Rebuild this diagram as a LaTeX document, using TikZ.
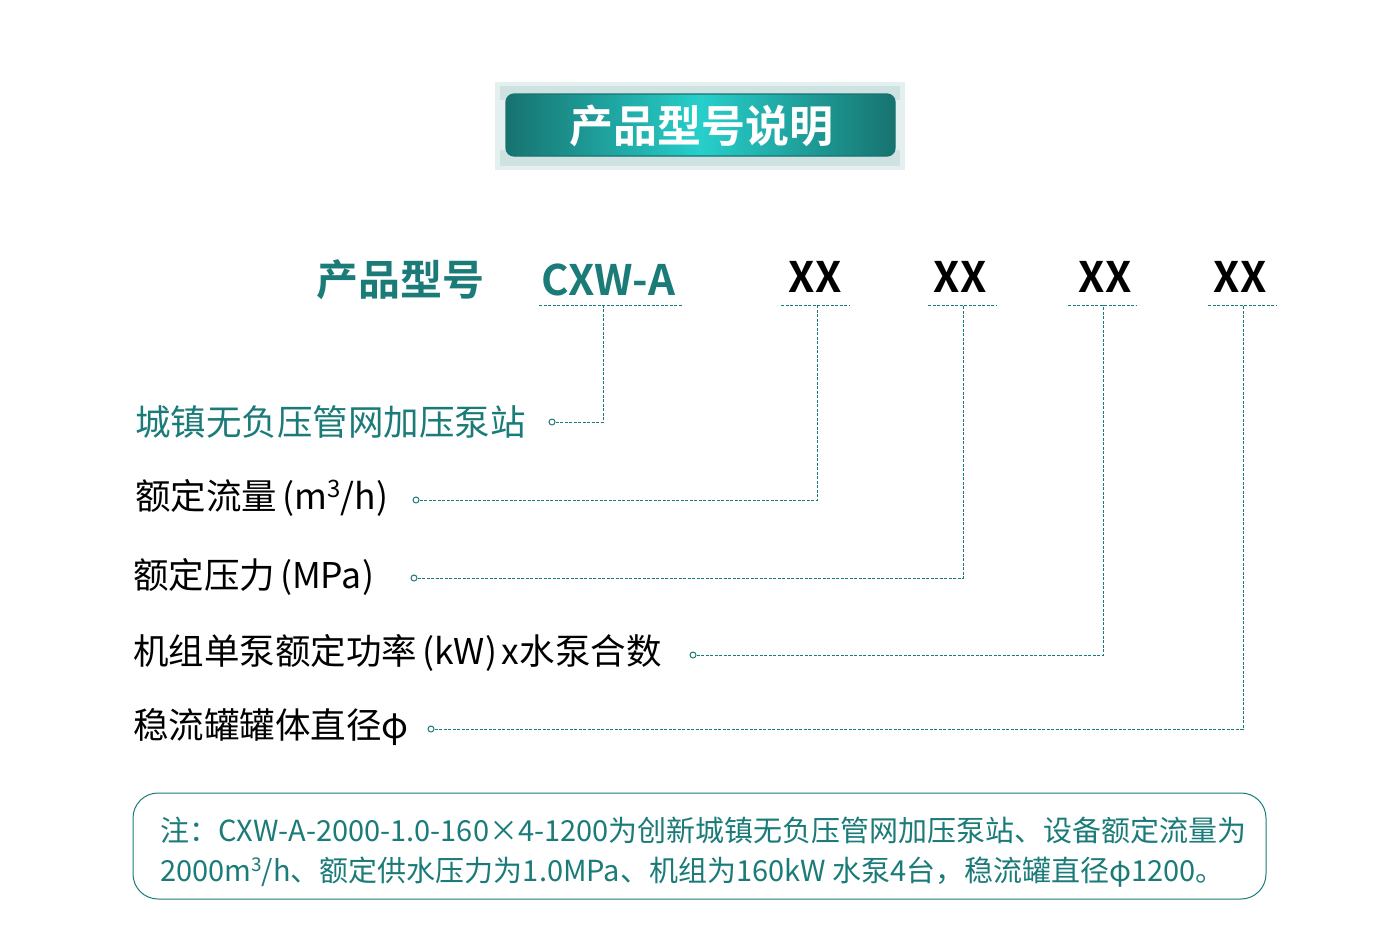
\documentclass[tikz,border=0pt]{standalone}
\usepackage{fontspec}
\setmainfont{Noto Sans CJK SC}
\newfontfamily\cjkb{Noto Sans CJK SC Bold}
\definecolor{teal1}{HTML}{1B7B78}
\definecolor{tealL}{HTML}{27CFCB}
\definecolor{tealD}{HTML}{17736F}
\tikzset{
 conn/.style={teal1,dashed,dash pattern=on 3pt off 1.5pt,line width=0.8pt},
 lab/.style={anchor=west,font=\fontsize{35.5}{38}\selectfont,inner sep=0},
 xx/.style={font=\cjkb\fontsize{42}{46}\selectfont,inner sep=0},
 dotc/.style={circle,draw=teal1,line width=1pt,fill=white,inner sep=0,minimum size=6pt}
}
\begin{document}
\begin{tikzpicture}[x=1pt,y=-1pt]
\useasboundingbox (0,0) rectangle (1400,926);
% banner
\fill[teal1!12] (495,82) rectangle (905,170);
\fill[teal1!22] (500,86) rectangle (900,100);
\fill[teal1!22] (500,150) rectangle (900,166);
\shade[rounded corners=8pt,left color=tealD,right color=tealD,middle color=tealL,draw=tealD,line width=1.2pt] (506,94) rectangle (895,156);
\node[font=\cjkb\fontsize{44}{48}\selectfont,text=white] (title) at (701,126) {产品型号说明};
% header
\node[xx,text=teal1] (pm) at (400,280) {产品型号};
\node[xx,text=teal1] (cxw) at (608,280) {CXW-A};
\node[xx] (x1) at (815,277) {XX};
\node[xx] (x2) at (960,277) {XX};
\node[xx] (x3) at (1105,277) {XX};
\node[xx] (x4) at (1240,277) {XX};
\coordinate (u0) at (603,305); \coordinate (u1) at (817,305);
\coordinate (u2) at (963,305); \coordinate (u3) at (1103,305); \coordinate (u4) at (1243,305);
\draw[conn] (539,305) -- (683,305);
\draw[conn] (781,305) -- (849,305);
\draw[conn] (928,305) -- (996,305);
\draw[conn] (1068,305) -- (1136,305);
\draw[conn] (1208,305) -- (1276,305);
% labels
\node[lab,text=teal1] (l0) at (135,422) {城镇无负压管网加压泵站};
\node[lab] (l1) at (135,498) {额定流量\kern5pt(m\raisebox{0.6ex}{\fontsize{24}{24}\selectfont 3}/h\kern1pt)};
\node[lab] (l2) at (133,577) {额定压力\kern5pt(MPa\kern1pt)};
\node[lab] (l3) at (133,653) {机组单泵额定功率\kern5pt(kW\kern1pt)\kern4pt x水泵合数};
\node[lab] (l4) at (133,727) {稳流罐罐体直径φ};
\node[dotc] (c0) at (552,422) {};
\node[dotc] (c1) at (416,500) {};
\node[dotc] (c2) at (414,578) {};
\node[dotc] (c3) at (693,655) {};
\node[dotc] (c4) at (431,729) {};
\draw[conn] (c0) -- (u0 |- c0) -- (u0);
\draw[conn] (c1) -- (u1 |- c1) -- (u1);
\draw[conn] (c2) -- (u2 |- c2) -- (u2);
\draw[conn] (c3) -- (u3 |- c3) -- (u3);
\draw[conn] (c4) -- (u4 |- c4) -- (u4);
% note
\draw[teal1,line width=1pt,rounded corners=25pt] (133,793) rectangle (1266,899);
\node[anchor=west,text=teal1,font=\fontsize{29}{30}\selectfont,inner sep=0] (n1) at (160,830) {注：CXW-A-2000-1.0-160×4-1200为创新城镇无负压管网加压泵站、设备额定流量为};
\node[anchor=west,text=teal1,font=\fontsize{29}{30}\selectfont,inner sep=0] (n2) at (160,872) {2000m\raisebox{0.6ex}{\fontsize{19}{19}\selectfont 3}/h、额定供水压力为1.0MPa、机组为160kW 水泵4台，稳流罐直径φ1200。};
\end{tikzpicture}
\end{document}
